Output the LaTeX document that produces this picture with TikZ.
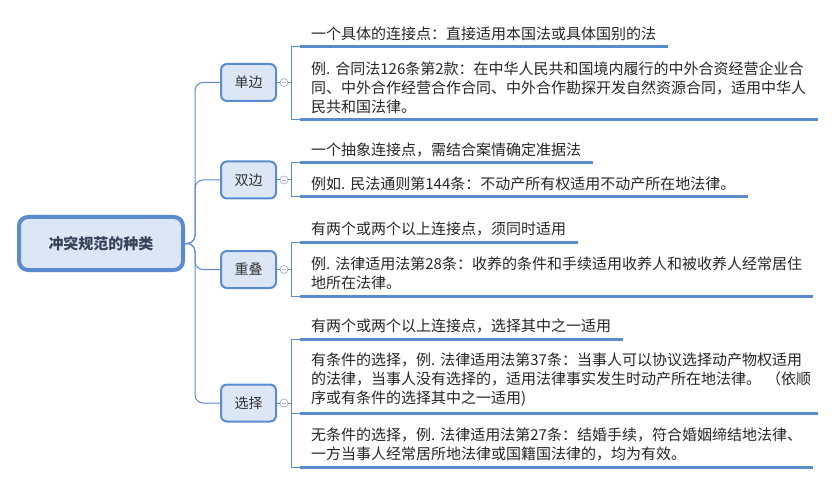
\documentclass[tikz,border=0pt]{standalone}
\usepackage{fontspec}
\newfontfamily\cjk{Noto Sans CJK SC}
\definecolor{lineblue}{HTML}{5B8BCF}
\definecolor{boxfill}{HTML}{DCE6F4}
\definecolor{foldgray}{HTML}{A9B6CB}
\definecolor{roottext}{HTML}{35435A}
\definecolor{leaftext}{HTML}{262626}
\begin{document}
\begin{tikzpicture}[x=1pt, y=-1pt,
    rootbox/.style={draw=lineblue, line width=4pt, fill=boxfill, rounded corners=9pt,
      minimum width=164pt, minimum height=53pt, inner sep=0pt,
      font=\cjk\fontsize{15}{18}\selectfont\bfseries, text=roottext},
    branchbox/.style={draw=lineblue, line width=2pt, fill=boxfill, rounded corners=6pt,
      minimum width=55pt, minimum height=37pt, inner sep=0pt,
      font=\cjk\fontsize{14}{17}\selectfont, text=black!80},
    fold/.style={circle, draw=foldgray, fill=white, line width=0.8pt, minimum size=8pt, inner sep=0pt,
      path picture={\draw[foldgray, line width=0.8pt]
        ([xshift=-2pt]path picture bounding box.center) -- ([xshift=2pt]path picture bounding box.center);}},
    leaf/.style={anchor=south west, inner xsep=11pt, inner ysep=6pt, align=left,
      font=\cjk\fontsize{15}{19}\selectfont, text=leaftext},
    uline/.style={draw=lineblue, line width=3pt},
    conn/.style={draw=lineblue, line width=1pt}]
  \useasboundingbox (0,0) rectangle (836,484);

  % Root and trunk
  \node[rootbox] (root) at (101,243.5) {冲突规范的种类};
  \coordinate (trunk) at (195,243.5);

  % Branches
  \node[branchbox] (dan) at (248.5,82.5) {单边};
  \node[branchbox] (shuang) at (248.5,180) {双边};
  \node[branchbox] (die) at (248.5,269.5) {重叠};
  \node[branchbox] (xuan) at (248.5,403) {选择};

  % Fold marks
  \node[fold] (fdan) at (284,82.5) {};
  \node[fold] (fshuang) at (284,180) {};
  \node[fold] (fdie) at (284,269.5) {};
  \node[fold] (fxuan) at (284,403) {};

  % Leaves of 单边
  \node[leaf, text width=346pt] (dan1) at (300,46.5) {一个具体的连接点：直接适用本国法或具体国别的法};
  \node[leaf, text width=496pt] (dan2) at (300,120) {例.~合同法126条第2款：在中华人民共和国境内履行的中外合资经营企业合\\同、中外合作经营合作合同、中外合作勘探开发自然资源合同，适用中华人\\民共和国法律。};

  % Leaves of 双边
  \node[leaf, text width=271pt] (shuang1) at (300,163) {一个抽象连接点，需结合案情确定准据法};
  \node[leaf, text width=426pt] (shuang2) at (300,197) {例如.~民法通则第144条：不动产所有权适用不动产所在地法律。};

  % Leaves of 重叠
  \node[leaf, text width=256pt] (die1) at (300,242.5) {有两个或两个以上连接点，须同时适用};
  \node[leaf, text width=491pt] (die2) at (300,296) {例.~法律适用法第28条：收养的条件和手续适用收养人和被收养人经常居住\\地所在法律。};

  % Leaves of 选择
  \node[leaf, text width=301pt] (xuan1) at (300,339) {有两个或两个以上连接点，选择其中之一适用};
  \node[leaf, text width=496pt] (xuan2) at (300,413) {有条件的选择，例.~法律适用法第37条：当事人可以协议选择动产物权适用\\的法律，当事人没有选择的，适用法律事实发生时动产所在地法律。~（依顺\\序或有条件的选择其中之一适用)};
  \node[leaf, text width=491pt] (xuan3) at (300,467) {无条件的选择，例.~法律适用法第27条：结婚手续，符合婚姻缔结地法律、\\一方当事人经常居所地法律或国籍国法律的，均为有效。};

  % Trunk to branches
  \draw[conn, rounded corners=8pt] (root.east) -- (trunk) |- (dan.west);
  \draw[conn, rounded corners=8pt] (root.east) -- (trunk) |- (shuang.west);
  \draw[conn, rounded corners=8pt] (root.east) -- (trunk) |- (die.west);
  \draw[conn, rounded corners=8pt] (root.east) -- (trunk) |- (xuan.west);

  % Branches to fold marks
  \draw[conn] (dan.east) -- (fdan.west);
  \draw[conn] (shuang.east) -- (fshuang.west);
  \draw[conn] (die.east) -- (fdie.west);
  \draw[conn] (xuan.east) -- (fxuan.west);
  \draw[conn] (fdan.east) -- ++(3,0);
  \draw[conn] (fshuang.east) -- ++(3,0);
  \draw[conn] (fdie.east) -- ++(3,0);
  \draw[conn] (fxuan.east) -- ++(3,0);

  % Brackets
  \draw[conn] (dan1.south west) -- ++(-9,0) |- (dan2.south west);
  \draw[conn] (shuang1.south west) -- ++(-9,0) |- (shuang2.south west);
  \draw[conn] (die1.south west) -- ++(-9,0) |- (die2.south west);
  \draw[conn] (xuan1.south west) -- ++(-9,0) |- (xuan3.south west);
  \draw[conn] (xuan2.south west) -- ++(-9,0);

  % Underlines
  \draw[uline] (dan1.south west) -- (dan1.south east);
  \draw[uline] (dan2.south west) -- (dan2.south east);
  \draw[uline] (shuang1.south west) -- (shuang1.south east);
  \draw[uline] (shuang2.south west) -- (shuang2.south east);
  \draw[uline] (die1.south west) -- (die1.south east);
  \draw[uline] (die2.south west) -- (die2.south east);
  \draw[uline] (xuan1.south west) -- (xuan1.south east);
  \draw[uline] (xuan2.south west) -- (xuan2.south east);
  \draw[uline] (xuan3.south west) -- (xuan3.south east);
\end{tikzpicture}
\end{document}
